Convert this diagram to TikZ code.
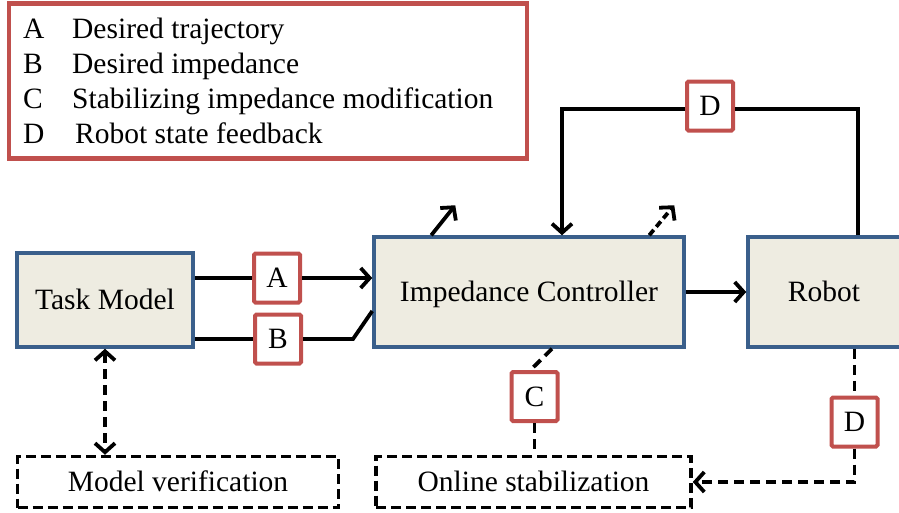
\documentclass[tikz,border=0pt]{standalone}
\usepackage{fontspec}
\setmainfont{Liberation Serif}
\usetikzlibrary{arrows.meta,calc}
\definecolor{boxfill}{HTML}{EEECE1}
\definecolor{boxblue}{HTML}{3A5F8B}
\definecolor{lblred}{HTML}{C0504D}
\begin{document}
\begin{tikzpicture}[x=1pt,y=-1pt,
  font=\fontsize{29.5}{34}\selectfont,
  block/.style={draw=boxblue, fill=boxfill, line width=3.5pt, inner sep=0pt, text height=19pt, text depth=0pt},
  lbl/.style={draw=lblred, fill=white, line width=4pt, rounded corners=1.5pt, inner sep=0pt, minimum width=46pt, minimum height=49pt, text height=19pt, text depth=0pt},
  dbox/.style={draw=black, line width=3.5pt, dash pattern=on 10pt off 5pt, inner sep=0pt, text height=19pt, text depth=0pt},
  conn/.style={draw=black, line width=3.8pt},
  dconn/.style={conn, dash pattern=on 10pt off 6pt},
  tip/.style={-{Straight Barb[length=9pt,width=20pt]}},
  legtxt/.style={anchor=base west, inner sep=0pt}]
\useasboundingbox (0,0) rectangle (899,512);
% legend
\node[draw=lblred, line width=4.5pt, minimum width=518pt, minimum height=155pt, inner sep=0pt] (leg) at (268,81) {};
\node[legtxt] (la) at (23,38) {A};
\node[legtxt] (ta) at (72,38) {Desired trajectory};
\node[legtxt] (lb) at (23,73) {B};
\node[legtxt] (tb) at (72,73) {Desired impedance};
\node[legtxt] (lc) at (23,108) {C};
\node[legtxt] (tc) at (72,108) {Stabilizing impedance modification};
\node[legtxt] (ld) at (23,143) {D};
\node[legtxt] (td) at (75,143) {Robot state feedback};
% blocks
\node[block, minimum width=176pt, minimum height=94pt] (tm) at (105,300) {Task Model};
\node[block, minimum width=310pt, minimum height=110pt] (ic) at (529,292) {Impedance Controller};
\node[block, minimum width=160pt, minimum height=110pt] (rb) at (828,292) {};
\node[text height=19pt, text depth=0pt, inner sep=0pt] (rbt) at (824,292) {Robot};
\node[dbox, minimum width=321pt, minimum height=51pt] (mv) at (178,482) {Model verification};
\node[dbox, minimum width=315pt, minimum height=51pt] (os) at (533.5,482) {Online stabilization};
% labels
\node[lbl] (A) at (277,278) {A};
\node[lbl] (B) at (278,339) {B};
\node[lbl] (D1) at (710,106) {D};
\node[lbl] (C) at (534.5,396.5) {C};
\node[lbl] (D2) at (854.5,422) {D};
% A and B
\draw[conn] (tm.east |- A.west) -- (A.west);
\draw[conn, tip] (A.east) -- (ic.west |- A.east);
\draw[conn] (tm.east |- B.west) -- (B.west);
\coordinate (b1) at (353,339);
\coordinate (b2) at ($(ic.west)+(0,19)$);
\draw[conn] (B.east) -- (b1) -- (b2);
% outputs on top of controller
\coordinate (o1s) at ($(ic.north west)+(59,0)$);
\coordinate (o1e) at ($(o1s)+(24,-30)$);
\draw[conn, tip] (o1s) -- (o1e);
\coordinate (o2s) at ($(ic.north west)+(277,0)$);
\coordinate (o2e) at ($(o2s)+(25,-30)$);
\draw[dconn, dash pattern=on 7pt off 4pt, tip] (o2s) -- (o2e);
% controller to robot
\draw[conn, tip] (ic.east) -- (rb.west);
% feedback D (top)
\coordinate (f1) at (858,109);
\coordinate (f2) at (562,109);
\draw[conn] (rb.north -| f1) -- (f1) -- (D1.east |- f1);
\draw[conn, tip] (D1.west |- f2) -- (f2) -- (ic.north -| f2);
% model verification
\draw[dconn, {Straight Barb[length=9pt,width=20pt]}-{Straight Barb[length=9pt,width=20pt]}] (tm.south) -- (mv.north -| tm.south);
% C
\coordinate (c1) at ($(ic.south)+(23,0)$);
\coordinate (c2) at ($(C.north)+(-4,0)$);
\draw[dconn] (c1) -- (c2);
\draw[dconn] (C.south) -- (os.north -| C.south);
% D bottom
\draw[dconn] (rb.south -| D2.north) -- (D2.north);
\coordinate (d3) at (D2.south |- os.east);
\draw[dconn, tip] (D2.south) -- (d3) -- (os.east);
\end{tikzpicture}
\end{document}
